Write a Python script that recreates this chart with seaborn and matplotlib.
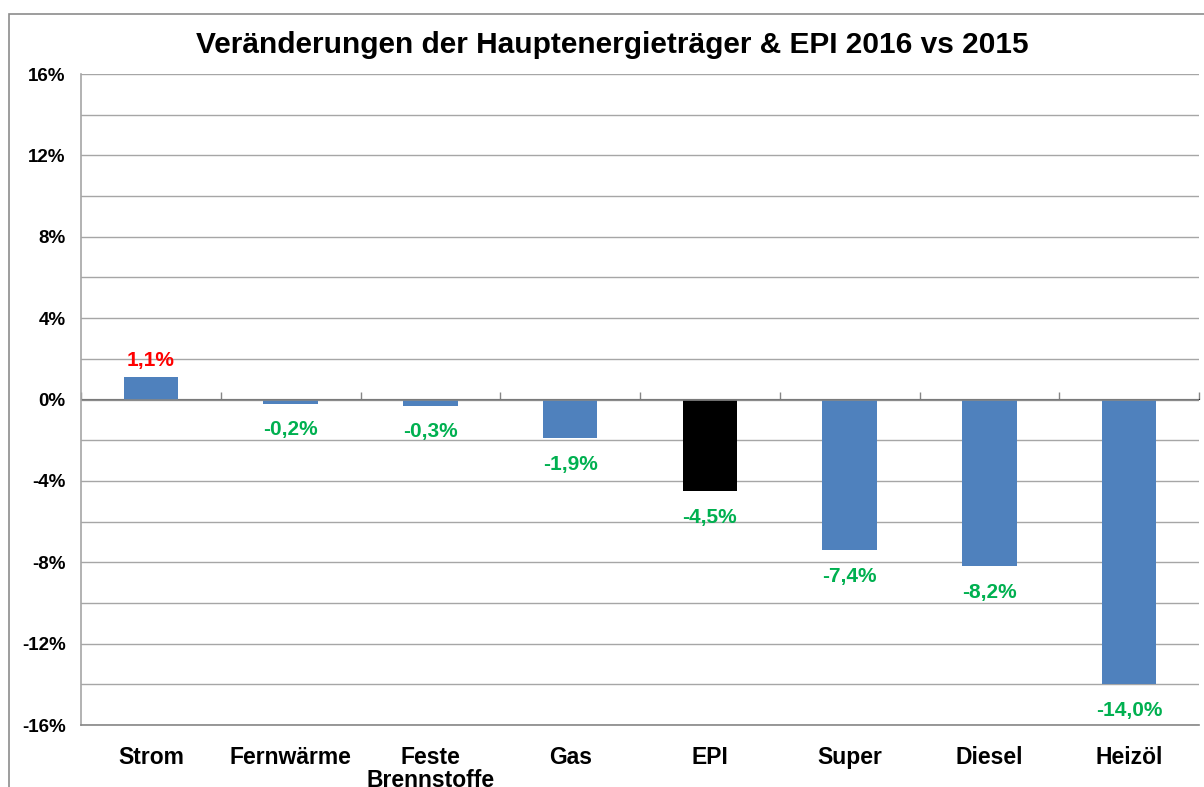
import matplotlib
matplotlib.use("Agg")
import matplotlib.pyplot as plt
from matplotlib.patches import Rectangle
from matplotlib.ticker import MultipleLocator, FuncFormatter
import seaborn as sns
import pandas as pd
import numpy as np

categories = ["Strom", "Fernwärme", "Feste\nBrennstoffe", "Gas", "EPI", "Super", "Diesel", "Heizöl"]
values = [1.1, -0.2, -0.3, -1.9, -4.5, -7.4, -8.2, -14.0]
label_texts = ["1,1%", "-0,2%", "-0,3%", "-1,9%", "-4,5%", "-7,4%", "-8,2%", "-14,0%"]
bar_colors = ["#4F81BD", "#4F81BD", "#4F81BD", "#4F81BD", "#000000", "#4F81BD", "#4F81BD", "#4F81BD"]
title = "Veränderungen der Hauptenergieträger & EPI 2016 vs 2015"

sns.set_style("white")
plt.rcParams["font.family"] = ["Liberation Sans", "DejaVu Sans"]
plt.rcParams["text.color"] = "black"
plt.rcParams["xtick.labelcolor"] = "black"
plt.rcParams["ytick.labelcolor"] = "black"

df = pd.DataFrame({"cat": categories, "val": values})

fig = plt.figure(figsize=(12.04, 7.87), dpi=100)
ax = fig.add_axes([81/1204, 1-725/787, (1199-81)/1204, (725-74)/787])

sns.barplot(data=df, x="cat", y="val", hue="cat", palette=dict(zip(categories, bar_colors)),
            width=0.39, legend=False, ax=ax, saturation=1, edgecolor="none")

ax.set_ylim(-16, 16)
ax.set_xlim(-0.5, len(categories) - 0.5)
ax.yaxis.set_major_locator(MultipleLocator(4))
ax.yaxis.set_minor_locator(MultipleLocator(2))
ax.yaxis.set_major_formatter(FuncFormatter(lambda v, p: f"{v:.0f}%"))
ax.grid(True, axis="y", which="both", color="#A6A6A6", linewidth=1)
ax.set_axisbelow(True)
ax.set_xlabel("")
ax.set_ylabel("")

for s in ["top", "right"]:
    ax.spines[s].set_visible(False)
ax.spines["left"].set_color("#A6A6A6")
ax.spines["left"].set_linewidth(1.2)
ax.spines["bottom"].set_color("#868686")
ax.spines["bottom"].set_linewidth(1.2)

ax.tick_params(axis="y", which="major", length=4.5, width=1, color="#A6A6A6", pad=6.5,
               labelsize=13.5, labelcolor="black")
ax.tick_params(axis="y", which="minor", length=0)
for t in ax.get_yticklabels():
    t.set_fontweight("bold")
ax.tick_params(axis="x", length=0, pad=15, labelsize=16.5, labelcolor="black")
for t in ax.get_xticklabels():
    t.set_fontweight("bold")
    t.set_linespacing(1.0)

# zero axis line with tick marks at category boundaries
ax.axhline(0, color="#868686", linewidth=1.2, zorder=1.5)
sec = ax.secondary_xaxis(0.5)
sec.set_xticks(np.arange(-0.5, len(categories), 1))
sec.set_xticklabels([])
sec.tick_params(length=5, width=1, color="#868686", direction="out")
sec.spines["bottom"].set_visible(False)

# data labels
for i, (v, txt) in enumerate(zip(values, label_texts)):
    if v >= 0:
        ax.annotate(txt, (i, v), xytext=(0, 5), textcoords="offset points",
                    ha="center", va="bottom", color="#FF0000", fontsize=15, fontweight="bold")
    else:
        ax.annotate(txt, (i, v), xytext=(0, -12), textcoords="offset points",
                    ha="center", va="top", color="#00B050", fontsize=15, fontweight="bold")

fig.text(612/1204, 1-45/787, title, ha="center", va="center", fontsize=21.5, fontweight="bold",
         color="black")

fig.patches.append(Rectangle((9/1204, -0.2), 2, 1.2 - 14/787, transform=fig.transFigure,
                             fill=False, edgecolor="#8C8C8C", linewidth=1.2))

fig.savefig("out.png", dpi=100)
